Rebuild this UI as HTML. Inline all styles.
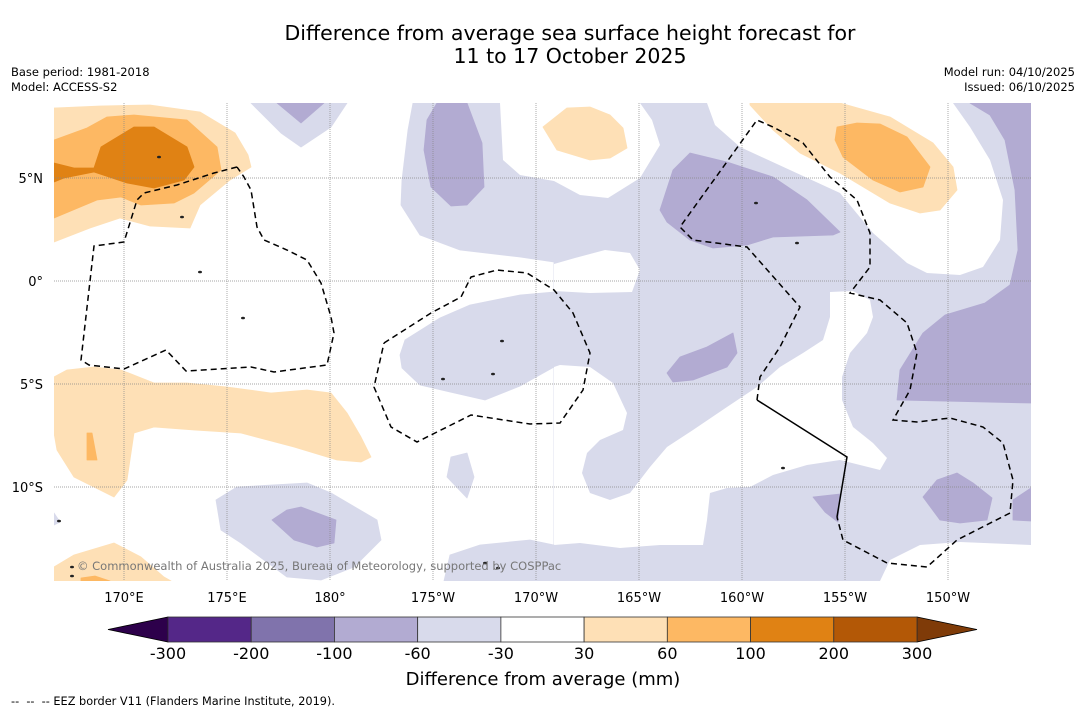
<!DOCTYPE html>
<html><head><meta charset="utf-8">
<style>
html,body{margin:0;padding:0;background:#fff;}
body{width:1085px;height:713px;overflow:hidden;position:relative;font-family:"DejaVu Sans","Liberation Sans",sans-serif;}
.t{position:absolute;white-space:nowrap;color:#000;}
</style></head>
<body>
<div class="t" style="left:0;width:1140px;top:22px;text-align:center;font-size:20.5px;line-height:23px;">Difference from average sea surface height forecast for<br>11 to 17 October 2025</div>
<div class="t" style="left:11px;top:65px;font-size:11.5px;line-height:15px;">Base period: 1981-2018<br>Model: ACCESS-S2</div>
<div class="t" style="right:10px;top:65px;font-size:11.5px;line-height:15px;text-align:right;">Model run: 04/10/2025<br>Issued: 06/10/2025</div>
<svg id="chart" width="1085" height="713" style="position:absolute;left:0;top:0" xmlns="http://www.w3.org/2000/svg"></svg>
<div class="t" style="left:11px;top:695px;font-size:11.3px;">-- &nbsp;-- &nbsp;-- EEZ border V11 (Flanders Marine Institute, 2019).</div>
<script>
// colorbar data
const cbBounds = [-300,-200,-100,-60,-30,30,60,100,200,300];
const cbColors = ['#542788','#8073ac','#b2abd2','#d8daeb','#ffffff','#fee0b6','#fdb863','#e08214','#b35806'];
const cbUnder = '#2d004b';
const cbOver = '#7f3b08';
// axis tick data
const lonTicks = [170,175,180,185,190,195,200,205,210];
const lonLabels = ['170°E','175°E','180°','175°W','170°W','165°W','160°W','155°W','150°W'];
const latTicks = [5,0,-5,-10];
const latLabels = ['5°N','0°','5°S','10°S'];
// contour polygons (level index into cbColors, points in projected map pixels)
const fills = [
 [3,[[554,103],[1031,103],[1031,581],[554,581]]],
 [3,[[413,103],[500,103],[503,160],[520,175],[554,181],[554,262],[520,257],[460,250],[420,235],[401,205],[402,180],[408,130]]],
 [3,[[400,355],[405,340],[440,318],[470,305],[520,295],[554,292],[554,367],[520,386],[485,400],[450,392],[420,385],[402,368]]],
 [4,[[500,103],[640,103],[652,120],[660,145],[640,178],[608,198],[580,195],[554,181],[520,175],[503,160]]],
 [4,[[554,264],[575,258],[605,250],[630,253],[640,270],[632,292],[590,293],[554,291]]],
 [4,[[707,103],[953,103],[970,127],[990,160],[1003,200],[1000,240],[983,267],[960,275],[927,273],[907,263],[873,233],[840,193],[740,147],[715,125]]],
 [4,[[554,367],[560,365],[590,367],[613,383],[627,413],[623,430],[600,440],[587,453],[582,473],[590,493],[610,500],[630,493],[650,467],[667,447],[693,430],[727,407],[757,387],[780,367],[803,353],[823,340],[830,317],[830,292],[853,291],[870,300],[873,317],[867,333],[850,353],[842,377],[842,400],[853,427],[873,443],[887,458],[880,470],[840,460],[807,465],[773,475],[750,487],[727,488],[710,493],[707,520],[703,545],[660,545],[620,548],[580,543],[554,545]]],
 [4,[[880,581],[890,560],[920,545],[960,542],[1031,545],[1031,581]]],
 [3,[[444,581],[450,555],[480,545],[530,540],[554,545],[554,581]]],
 [3,[[216,500],[237,487],[307,483],[331,493],[377,520],[381,540],[354,567],[321,580],[287,577],[241,543],[221,530]]],
 [3,[[251,103],[347,103],[331,127],[301,147],[281,133]]],
 [3,[[451,457],[467,453],[474,477],[467,498],[447,477]]],
 [3,[[54,513],[60,522],[54,525]]],
 [2,[[437,103],[467,103],[482,143],[484,187],[467,205],[451,206],[431,187],[424,150],[427,120]]],
 [2,[[277,103],[324,103],[301,123]]],
 [2,[[660,210],[673,170],[690,153],[727,162],[773,177],[807,200],[840,232],[833,235],[773,237],[747,245],[713,248],[690,240],[667,222]]],
 [2,[[667,373],[680,357],[707,347],[733,333],[737,353],[727,367],[693,380],[673,382]]],
 [2,[[813,497],[840,494],[838,522],[825,512]]],
 [2,[[923,497],[937,480],[957,473],[973,483],[992,498],[987,520],[960,523],[940,520]]],
 [2,[[1013,500],[1031,488],[1031,521],[1013,520]]],
 [2,[[970,103],[1031,103],[1031,403],[897,400],[900,370],[923,333],[945,315],[985,303],[1010,285],[1018,250],[1015,190],[1005,140],[990,115]]],
 [2,[[272,520],[287,510],[301,507],[336,520],[334,543],[317,547],[294,540]]],
 [5,[[54,108],[100,106],[150,105],[200,112],[235,133],[248,155],[251,167],[230,180],[200,205],[190,228],[150,226],[120,218],[90,228],[54,242]]],
 [6,[[54,140],[87,128],[107,117],[134,115],[187,120],[217,147],[221,170],[194,193],[174,203],[141,205],[121,197],[97,200],[54,218]]],
 [7,[[54,163],[74,168],[94,168],[101,147],[134,127],[154,127],[187,147],[194,167],[184,180],[154,188],[127,183],[94,172],[64,178],[54,182]]],
 [5,[[54,377],[67,370],[94,367],[121,370],[154,383],[187,383],[227,387],[271,393],[307,390],[331,393],[347,413],[361,437],[371,457],[361,462],[337,460],[294,447],[241,433],[194,430],[154,427],[134,433],[127,480],[114,497],[74,477],[57,450],[54,433]]],
 [6,[[87,433],[92,433],[97,460],[87,460]]],
 [5,[[54,567],[74,555],[114,543],[141,557],[164,577],[171,581],[54,581]]],
 [6,[[81,578],[95,576],[110,581],[81,581]]],
 [5,[[543,127],[567,108],[590,107],[610,115],[623,128],[627,148],[610,158],[590,160],[557,150]]],
 [5,[[750,105],[750,103],[840,103],[890,117],[933,143],[953,167],[957,190],[940,210],[920,213],[890,203],[840,173],[800,153],[773,130]]],
 [6,[[837,127],[857,123],[880,124],[907,137],[930,167],[923,187],[900,192],[873,180],[843,157],[835,140]]]
];
const eezDashed = [
 [[237,167],[214,173],[177,185],[144,193],[137,200],[124,242],[94,246],[81,360],[89,365],[124,369],[166,350],[186,371],[251,367],[274,372],[327,365],[334,333],[331,317],[321,283],[307,260],[287,250],[264,240],[257,227],[251,190],[244,177],[237,167]],
 [[384,343],[431,313],[461,297],[471,277],[497,270],[527,273],[554,290],[573,313],[590,353],[583,390],[560,423],[530,424],[471,415],[417,442],[391,427],[374,387],[384,343]],
 [[757,400],[760,377],[780,347],[800,307],[747,247],[693,240],[680,227],[757,120],[773,127],[803,143],[830,177],[857,200],[870,233],[870,267],[850,293],[880,300],[907,323],[917,353],[910,390],[893,420],[917,422],[950,418],[983,427],[1003,443],[1013,480],[1010,513],[957,540],[927,567],[887,563],[843,540],[837,517]]
];
const eezSolid = [[757,400],[847,457],[837,517]];

const NS='http://www.w3.org/2000/svg';
const svg=document.getElementById('chart');
const X0=54,X1=1031,Y0=103,Y1=581;
function lonX(l){return 124+(l-170)*20.6;}
function latY(l){return 281-l*20.6;}
function mk(tag,attrs,parent){const e=document.createElementNS(NS,tag);for(const k in attrs)e.setAttribute(k,attrs[k]);(parent||svg).appendChild(e);return e;}
const defs=mk('defs',{});
const cp=mk('clipPath',{id:'plotclip'},defs);
mk('rect',{x:X0,y:Y0,width:X1-X0,height:Y1-Y0},cp);
const g=mk('g',{'clip-path':'url(#plotclip)'});


mk('rect',{x:X0,y:Y0,width:X1-X0,height:Y1-Y0,fill:'#fff'},g);
fills.forEach(f=>{
 const p=mk('polygon',{points:f[1].map(q=>q.join(',')).join(' '),fill:cbColors[f[0]],stroke:f[0]==4?'none':cbColors[f[0]],'stroke-width':0.8,'stroke-linejoin':'round'},g);
 
 
});
// grid
lonTicks.forEach(l=>{const ln=mk('line',{x1:lonX(l),x2:lonX(l),y1:Y0,y2:Y1,stroke:'#888','stroke-width':0.7,'stroke-dasharray':'1,1'},g);
 });
latTicks.forEach(l=>{const ln=mk('line',{x1:X0,x2:X1,y1:latY(l),y2:latY(l),stroke:'#888','stroke-width':0.7,'stroke-dasharray':'1,1'},g);
 });
// EEZ
eezDashed.forEach(pl=>{const e=mk('polyline',{points:pl.map(q=>q.join(',')).join(' '),fill:'none',stroke:'#000','stroke-width':1.5,'stroke-dasharray':'6,4'},g);
 });
const es=mk('polyline',{points:eezSolid.map(q=>q.join(',')).join(' '),fill:'none',stroke:'#000','stroke-width':1.5},g);


// islands
[[159,157],[182,217],[200,272],[243,318],[502,341],[443,379],[493,374],[797,243],[756,203],[498,568],[485,563],[72,567],[72,576],[59,521],[783,468]].forEach(p=>{
 const c=mk('ellipse',{cx:p[0],cy:p[1],rx:2,ry:1.3,fill:'#222'},g);
 });
const cr=mk('text',{x:77,y:570,'font-size':11.5,fill:'#777','font-family':'DejaVu Sans, Liberation Sans, sans-serif'},g);
cr.textContent='© Commonwealth of Australia 2025, Bureau of Meteorology, supported by COSPPac';


// axis labels
lonTicks.forEach((l,i)=>{const t=mk('text',{x:lonX(l),y:602,'text-anchor':'middle','font-size':13});t.textContent=lonLabels[i];
 });
latTicks.forEach((l,i)=>{const t=mk('text',{x:43,y:latY(l)+5,'text-anchor':'end','font-size':13});t.textContent=latLabels[i];
 });
// colorbar
const CB0=168,CB1=917,CBY=617,CBH=25;
const nB=cbBounds.length-1;
function cbX(i){return CB0+(CB1-CB0)*i/nB;}
const under=mk('polygon',{points:`${CB0},${CBY} ${CB0},${CBY+CBH} 108,${CBY+CBH/2}`,fill:cbUnder,stroke:'#000','stroke-width':0.8});

const over=mk('polygon',{points:`${CB1},${CBY} ${CB1},${CBY+CBH} 977,${CBY+CBH/2}`,fill:cbOver,stroke:'#000','stroke-width':0.8});

cbColors.forEach((c,i)=>{const r=mk('rect',{x:cbX(i),y:CBY,width:cbX(i+1)-cbX(i),height:CBH,fill:c,stroke:'#333','stroke-width':0.8});
 });
cbBounds.forEach((b,i)=>{const t=mk('text',{x:cbX(i),y:659,'text-anchor':'middle','font-size':16});t.textContent=b;
 });
const cbt=mk('text',{x:543,y:685,'text-anchor':'middle','font-size':18});
cbt.textContent='Difference from average (mm)';


</script>
</body></html>
